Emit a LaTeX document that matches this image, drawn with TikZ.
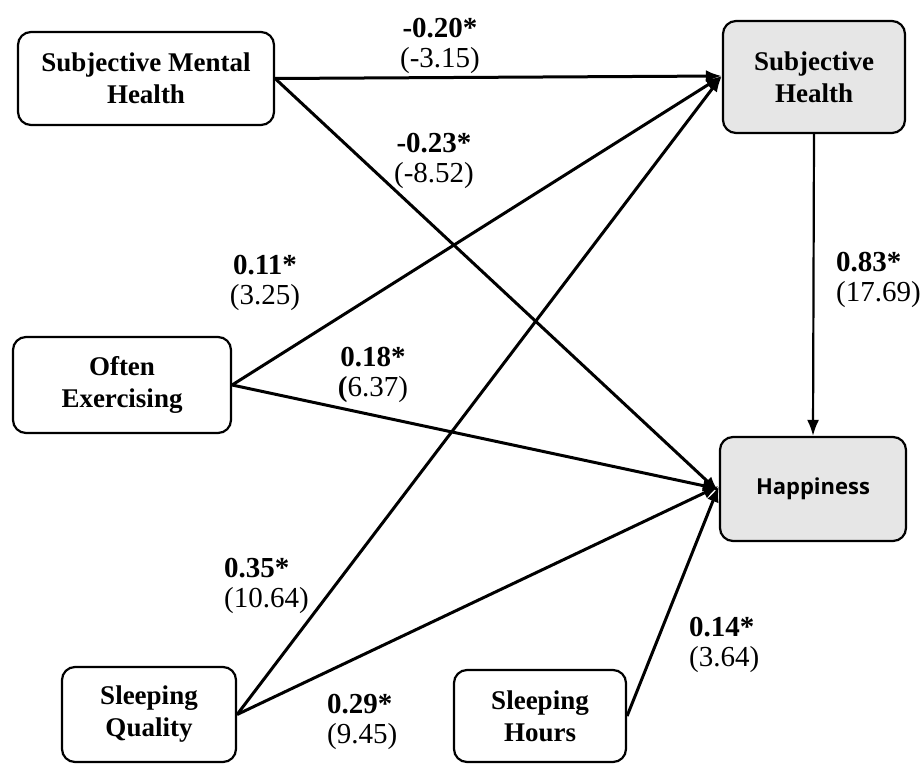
\documentclass[tikz,border=0pt]{standalone}
\usepackage{fontspec}
\setmainfont{Liberation Serif}
\newfontfamily\happyfont{Open Sans}
\usetikzlibrary{arrows.meta}
\definecolor{boxgray}{HTML}{E6E6E6}
\tikzset{
  varbox/.style={draw, line width=2.2pt, rounded corners=13pt, align=center, inner sep=0pt,
    font=\fontsize{27}{32}\selectfont\bfseries},
  endobox/.style={varbox, fill=boxgray},
  path/.style={line width=3pt, -{Latex[length=16pt,width=12pt]}},
  coef/.style={align=center, inner sep=0pt, font=\fontsize{29}{30}\selectfont},
  coefl/.style={coef, align=left, anchor=west},
}
\begin{document}
\begin{tikzpicture}[x=1pt,y=-1pt]
\useasboundingbox (0,0) rectangle (924,765);
% boxes
\node[varbox, minimum width=256pt, minimum height=93pt] (smh) at (146,78.5) {Subjective Mental\\Health};
\node[endobox, minimum width=182pt, minimum height=112pt] (sh) at (814,77) {Subjective\\Health};
\node[varbox, minimum width=218pt, minimum height=96pt] (oe) at (122,385) {Often\\Exercising};
\node[endobox, minimum width=186pt, minimum height=104pt, font=\happyfont\fontsize{22}{25}\selectfont\bfseries] (hap) at (813,489) {Happiness};
\node[varbox, minimum width=174pt, minimum height=95pt] (sq) at (149,714.5) {Sleeping\\Quality};
\node[varbox, minimum width=172pt, minimum height=92pt] (shr) at (540,716) {Sleeping\\Hours};
% connectors
\coordinate (shin) at ([yshift=1pt]sh.west);
\coordinate (hapin) at ([yshift=-3pt]hap.west);
\coordinate (hapin2) at ([yshift=3pt]hap.west);
\draw[path] (smh.east) -- (shin);
\draw[path] (smh.east) -- (hapin);
\draw[path] (oe.east) -- (shin);
\draw[path] (oe.east) -- (hap.west);
\draw[path] (sq.east) -- (shin);
\draw[path] (sq.east) -- (hapin2);
\draw[path] (shr.east) -- (hapin2);
\draw[path, line width=2.2pt] (sh.south) -- (hap.north);
% coefficients
\node[coef] (c1) at (440,46) {\textbf{-0.20*}\\(-3.15)};
\node[coef] (c2) at (434,161) {\textbf{-0.23*}\\(-8.52)};
\node[coef] (c3) at (265,283) {\textbf{0.11*}\\(3.25)};
\node[coef] (c4) at (373,375) {\textbf{0.18*}\\\textbf{(}6.37)};
\node[coefl] (c5) at (836,280) {\textbf{0.83*}\\(17.69)};
\node[coefl] (c6) at (224,586) {\textbf{0.35*}\\(10.64)};
\node[coefl] (c7) at (689,645) {\textbf{0.14*}\\(3.64)};
\node[coefl] (c8) at (327,722) {\textbf{0.29*}\\(9.45)};
\end{tikzpicture}
\end{document}
